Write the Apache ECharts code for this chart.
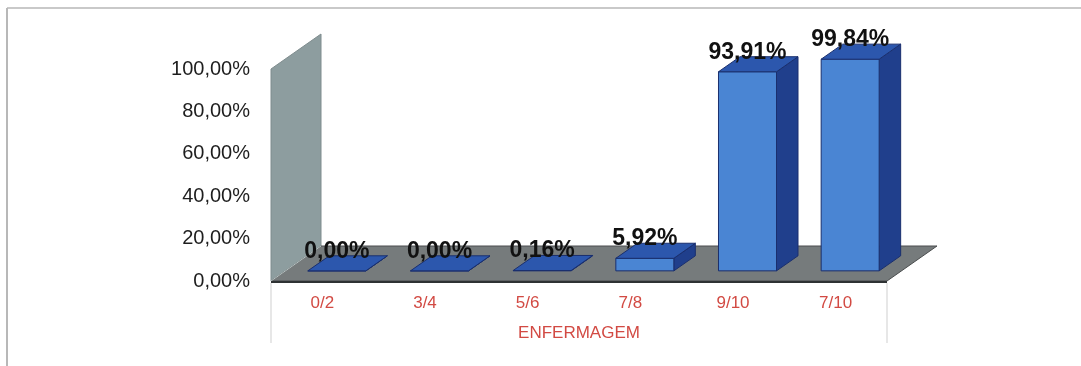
<!DOCTYPE html>
<html>
<head>
<meta charset="utf-8">
<script src="https://cdn.jsdelivr.net/npm/echarts@6/dist/echarts.min.js"></script>
<style>
  html, body { margin: 0; padding: 0; background: #fff; }
  #chart { width: 1081px; height: 366px; }
</style>
</head>
<body>
<div id="chart"></div>
<script>
// Series data: share of students per grade band, nursing course
const categories = ['0/2', '3/4', '5/6', '7/8', '9/10', '7/10'];
const values = [0.00, 0.00, 0.16, 5.92, 93.91, 99.84];
const axisName = 'ENFERMAGEM';
const yMin = 0, yMax = 100, yStep = 20;

// 3D look: floor/wall depth and bar placement within it
const DEPTH = { x: 50, y: -35 };
const BAR_OFFSET = 0.29;   // fraction of depth before the bar starts
const BAR_DEPTH = 0.43;    // fraction of depth the bar occupies
const BAR_WIDTH = 0.565;   // fraction of category band

const pct = v => v.toFixed(2).replace('.', ',') + '%';

const chart = echarts.init(document.getElementById('chart'));

function renderBackdrop(params, api) {
  const cs = params.coordSys;
  const x = cs.x, y = cs.y, w = cs.width, h = cs.height;
  const fy = y + h;
  return {
    type: 'group',
    children: [
      // side wall
      { type: 'polygon', shape: { points: [[x, fy], [x, y], [x + DEPTH.x, y + DEPTH.y], [x + DEPTH.x, fy + DEPTH.y]] },
        style: { fill: '#8d9d9f', stroke: '#7f8c8e', lineWidth: 1 } },
      // floor
      { type: 'polygon', shape: { points: [[x, fy], [x + w, fy], [x + w + DEPTH.x, fy + DEPTH.y], [x + DEPTH.x, fy + DEPTH.y]] },
        style: { fill: '#767b7c', stroke: '#4a4d4e', lineWidth: 1 } },
      // wall/floor seam
      { type: 'line', shape: { x1: x, y1: fy, x2: x + DEPTH.x, y2: fy + DEPTH.y },
        style: { stroke: '#b9c4c4', lineWidth: 1 } },
      // floor front edge
      { type: 'line', shape: { x1: x, y1: fy + 1, x2: x + w, y2: fy + 1 },
        style: { stroke: '#2e3233', lineWidth: 2 } },
      // plot area side rules below the floor
      { type: 'line', shape: { x1: x, y1: fy + 2, x2: x, y2: fy + 62 },
        style: { stroke: '#cfcfcf', lineWidth: 1 } },
      { type: 'line', shape: { x1: x + w, y1: fy + 2, x2: x + w, y2: fy + 62 },
        style: { stroke: '#cfcfcf', lineWidth: 1 } }
    ]
  };
}

function renderBar(params, api) {
  const idx = api.value(0);
  const val = api.value(1);
  const base = api.coord([idx, 0]);
  const top = api.coord([idx, val]);
  const band = api.size([1, 0])[0];
  const bw = band * BAR_WIDTH;
  const ox = DEPTH.x * BAR_OFFSET, oy = DEPTH.y * BAR_OFFSET;
  const dx = DEPTH.x * BAR_DEPTH, dy = DEPTH.y * BAR_DEPTH;
  const x0 = base[0] - bw / 2 + ox, x1 = x0 + bw;
  const yb = base[1] + oy, yt = top[1] + oy;
  const edge = '#1a2f6e';
  return {
    type: 'group',
    children: [
      { type: 'polygon', shape: { points: [[x1, yb], [x1 + dx, yb + dy], [x1 + dx, yt + dy], [x1, yt]] },
        style: { fill: '#203f8c', stroke: edge, lineWidth: 1 } },
      { type: 'rect', shape: { x: x0, y: yt, width: bw, height: yb - yt },
        style: { fill: '#4a85d3', stroke: edge, lineWidth: 1 } },
      { type: 'polygon', shape: { points: [[x0, yt], [x1, yt], [x1 + dx, yt + dy], [x0 + dx, yt + dy]] },
        style: { fill: '#2c57ad', stroke: edge, lineWidth: 1 } },
      { type: 'text', x: x0 + bw / 2, y: yt + dy + 7,
        style: { text: pct(val), fill: '#111', font: 'bold 23px "Liberation Sans", Arial, sans-serif',
                 align: 'center', verticalAlign: 'bottom' } }
    ]
  };
}

chart.setOption({
  animation: false,
  backgroundColor: '#ffffff',
  graphic: [
    { type: 'line', shape: { x1: 7, y1: 8, x2: 1081, y2: 8 }, style: { stroke: '#c9c9c9', lineWidth: 2 } },
    { type: 'line', shape: { x1: 7, y1: 8, x2: 7, y2: 366 }, style: { stroke: '#b8b8b8', lineWidth: 2 } }
  ],
  grid: { left: 271, right: 194, top: 69, bottom: 85 },
  xAxis: {
    type: 'category',
    data: categories,
    axisLine: { show: false },
    axisTick: { show: false },
    axisLabel: { color: '#d24a43', fontSize: 17, fontFamily: '"Liberation Sans", Arial, sans-serif', margin: 14 },
    name: axisName,
    nameLocation: 'middle',
    nameGap: 44,
    nameTextStyle: { color: '#d24a43', fontSize: 17, fontFamily: '"Liberation Sans", Arial, sans-serif' }
  },
  yAxis: {
    type: 'value',
    min: yMin, max: yMax, interval: yStep,
    axisLine: { show: false },
    axisTick: { show: false },
    splitLine: { show: false },
    axisLabel: { formatter: pct, color: '#1e1e1e', fontSize: 20, fontFamily: '"Liberation Sans", Arial, sans-serif', margin: 21 }
  },
  series: [
    { type: 'custom', renderItem: renderBackdrop, data: [[0, 0]], z: 1, silent: true },
    { type: 'custom', renderItem: renderBar, data: values.map((v, i) => [i, v]), z: 2 }
  ]
});
</script>
</body>
</html>
